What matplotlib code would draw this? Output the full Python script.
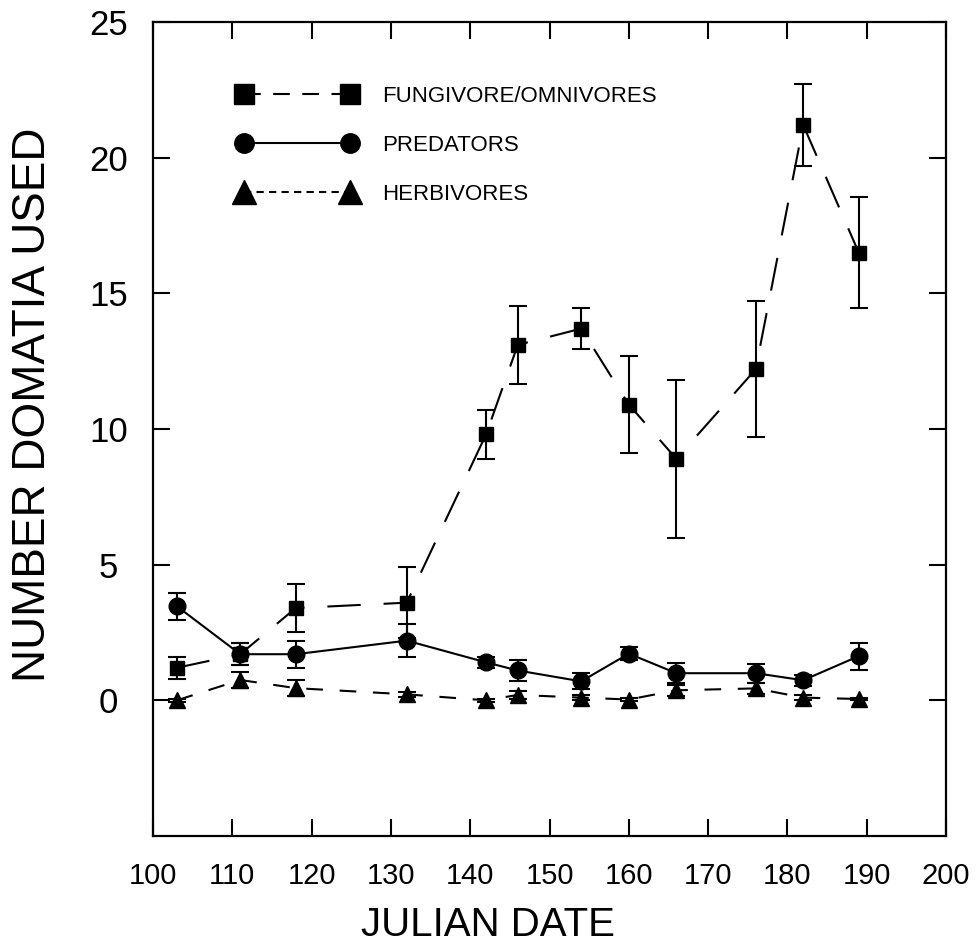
import matplotlib
matplotlib.use("Agg")
import matplotlib.pyplot as plt
from matplotlib.lines import Line2D

plt.rcParams['font.family'] = ['Liberation Sans', 'DejaVu Sans']

# ---- data ----
julian_dates = [103, 111, 118, 132, 142, 146, 154, 160, 166, 176, 182, 189]
fungivore_mean = [1.2, 1.7, 3.4, 3.6, 9.8, 13.1, 13.7, 10.9, 8.9, 12.2, 21.2, 16.5]
fungivore_se = [0.4, 0.4, 0.9, 1.3, 0.9, 1.45, 0.75, 1.8, 2.9, 2.5, 1.5, 2.05]
predator_mean = [3.47, 1.7, 1.7, 2.2, 1.4, 1.1, 0.7, 1.72, 1.0, 1.0, 0.74, 1.63]
predator_se = [0.5, 0.4, 0.5, 0.6, 0.2, 0.4, 0.3, 0.25, 0.37, 0.35, 0.2, 0.5]
herbivore_mean = [0.0, 0.75, 0.45, 0.22, 0.0, 0.2, 0.1, 0.03, 0.37, 0.44, 0.1, 0.05]
herbivore_se = [0.05, 0.3, 0.3, 0.1, 0.05, 0.15, 0.1, 0.05, 0.2, 0.2, 0.1, 0.05]
series_labels = ['FUNGIVORE/OMNIVORES', 'PREDATORS', 'HERBIVORES']
x_ticks = list(range(100, 201, 10))
y_ticks = [0, 5, 10, 15, 20, 25]

fig = plt.figure(figsize=(9.77, 9.51), dpi=100)
ax = fig.add_axes([153/977, 1 - 836/951, (946-153)/977, (836-22)/951])

lw = 1.5
ax.errorbar(julian_dates, fungivore_mean, yerr=fungivore_se, color='black',
            marker='s', markersize=9.5, linestyle=(0, (16, 11)), linewidth=lw,
            elinewidth=lw, capsize=6.5, capthick=lw)
ax.errorbar(julian_dates, predator_mean, yerr=predator_se, color='black',
            marker='o', markersize=12, linestyle='-', linewidth=lw,
            elinewidth=lw, capsize=6.5, capthick=lw)
ax.errorbar(julian_dates, herbivore_mean, yerr=herbivore_se, color='black',
            marker='^', markersize=11, linestyle=(0, (8, 8)), linewidth=lw,
            elinewidth=lw, capsize=6.5, capthick=lw)

ax.set_xlim(100, 200)
ax.set_ylim(-5, 25)
ax.set_xticks(x_ticks)
ax.set_yticks(y_ticks)
for s in ax.spines.values():
    s.set_linewidth(1.6)
ax.tick_params(direction='in', length=12, width=1.5, top=True, right=True)
ax.tick_params(axis='x', pad=19)
ax.tick_params(axis='y', pad=32)
for lab in ax.get_xticklabels():
    lab.set_fontsize(21)
for lab in ax.get_yticklabels():
    lab.set_fontsize(25)
    lab.set_horizontalalignment('center')

ax.set_ylabel('NUMBER DOMATIA USED', fontsize=33)
ax.yaxis.set_label_coords((33-153)/793, (836-405)/814)
ax.yaxis.label.set_verticalalignment('center')
ax.set_xlabel('JULIAN DATE', fontsize=29)
ax.xaxis.set_label_coords((488-153)/793, (836-925)/814)
ax.xaxis.label.set_verticalalignment('center')

handles = [
    Line2D([], [], color='black', marker='s', markersize=14, linestyle=(0, (8, 6)), linewidth=lw),
    Line2D([], [], color='black', marker='o', markersize=14, linestyle='-', linewidth=lw),
    Line2D([], [], color='black', marker='^', markersize=17, linestyle=(0, (3.5, 2.5)), linewidth=lw),
]
ax.legend(handles, series_labels, loc='upper left',
          bbox_to_anchor=((237-153)/793, (836-86)/814), frameon=False,
          fontsize=16, numpoints=2, handlelength=5.4, handletextpad=1.15,
          labelspacing=1.25, borderpad=0, borderaxespad=0)

fig.savefig('out.png', dpi=100)
